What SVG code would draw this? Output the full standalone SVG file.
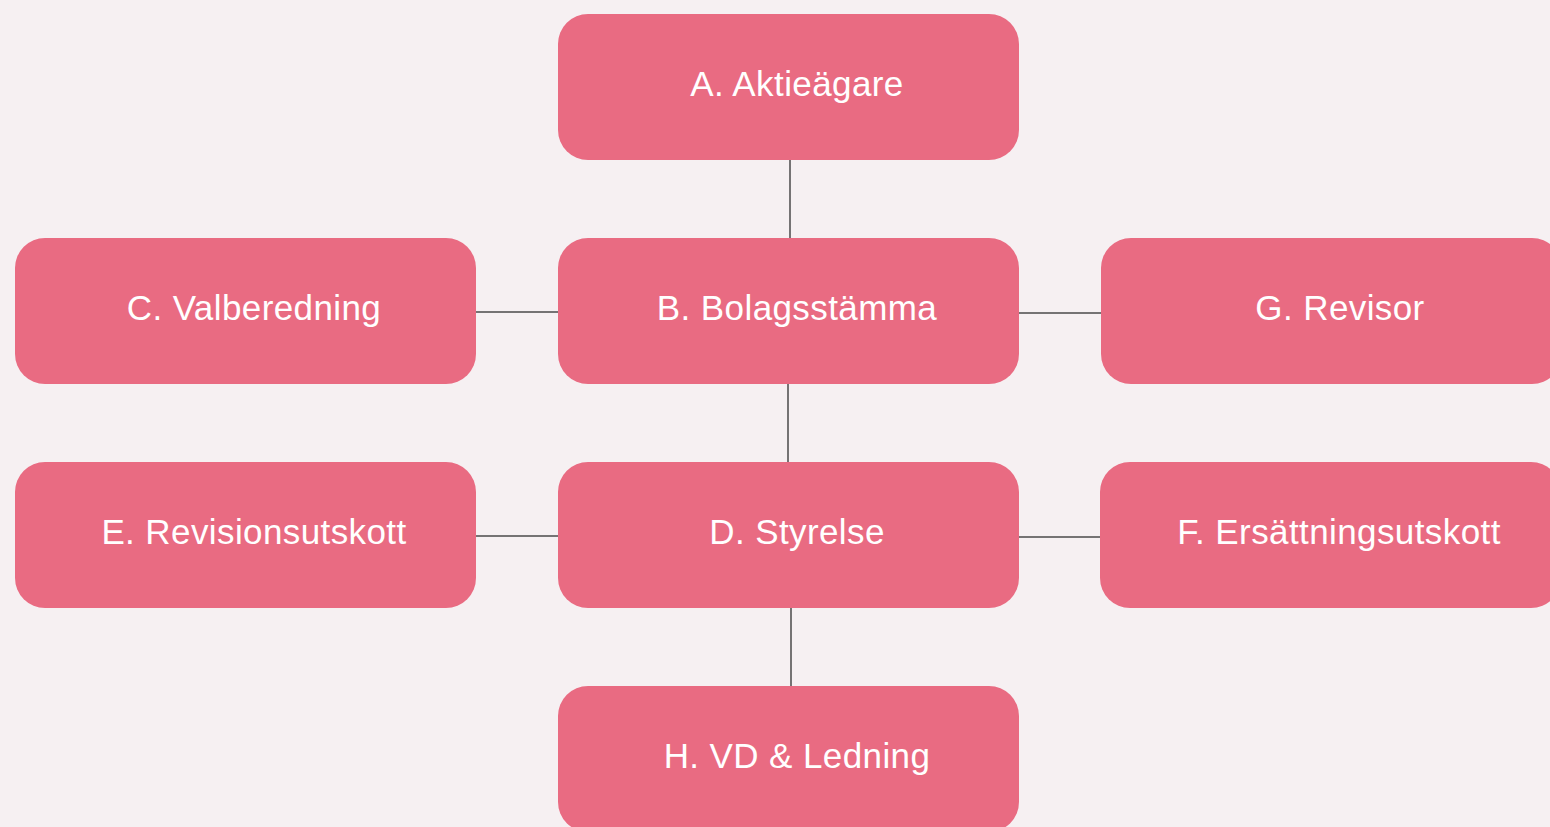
<svg xmlns="http://www.w3.org/2000/svg" width="1550" height="827" viewBox="0 0 1550 827">
<style>
.bg{fill:#F6F0F2}
.node{fill:#E96B82}
.lbl{font-family:"Liberation Sans",Arial,sans-serif;font-size:35px;letter-spacing:0.4px;fill:#FFFFFF;text-anchor:middle}
.edge{stroke:#4A4A4A;stroke-width:1.5;fill:none}
</style>
<rect class="bg" x="0" y="0" width="1550" height="827"/>
<g id="connectors">
<line class="edge" x1="790" y1="160" x2="790" y2="238"/>
<line class="edge" x1="788" y1="384" x2="788" y2="462"/>
<line class="edge" x1="791" y1="608" x2="791" y2="686"/>
<line class="edge" x1="476" y1="312" x2="558" y2="312"/>
<line class="edge" x1="1019" y1="313" x2="1101" y2="313"/>
<line class="edge" x1="476" y1="536" x2="558" y2="536"/>
<line class="edge" x1="1019" y1="537" x2="1100" y2="537"/>
</g>
<g id="A"><rect class="node" x="558" y="14" width="461" height="146" rx="30"/><text class="lbl" x="797" y="96">A. Aktieägare</text></g>
<g id="B"><rect class="node" x="558" y="238" width="461" height="146" rx="30"/><text class="lbl" x="797" y="320">B. Bolagsstämma</text></g>
<g id="C"><rect class="node" x="15" y="238" width="461" height="146" rx="30"/><text class="lbl" x="254" y="320">C. Valberedning</text></g>
<g id="G"><rect class="node" x="1101" y="238" width="461" height="146" rx="30"/><text class="lbl" x="1340" y="320">G. Revisor</text></g>
<g id="D"><rect class="node" x="558" y="462" width="461" height="146" rx="30"/><text class="lbl" x="797" y="544">D. Styrelse</text></g>
<g id="E"><rect class="node" x="15" y="462" width="461" height="146" rx="30"/><text class="lbl" x="254" y="544">E. Revisionsutskott</text></g>
<g id="F"><rect class="node" x="1100" y="462" width="461" height="146" rx="30"/><text class="lbl" x="1339" y="544">F. Ersättningsutskott</text></g>
<g id="H"><rect class="node" x="558" y="686" width="461" height="146" rx="30"/><text class="lbl" x="797" y="768">H. VD &amp; Ledning</text></g>
</svg>
